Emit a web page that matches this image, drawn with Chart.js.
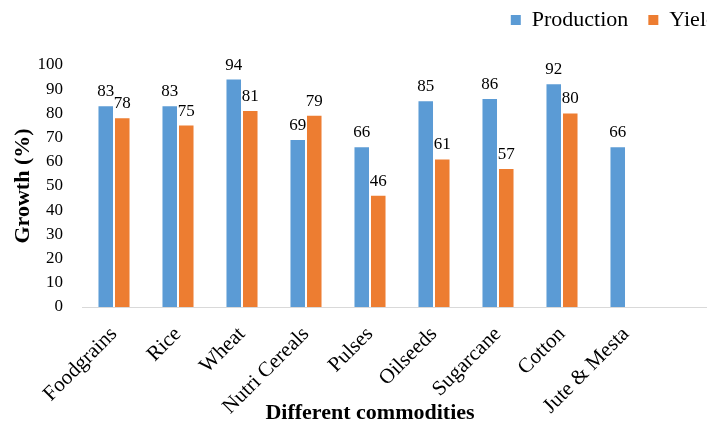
<!DOCTYPE html>
<html>
<head>
<meta charset="utf-8">
<title>Growth in production and yield</title>
<script src="https://cdn.jsdelivr.net/npm/chart.js@4.4.1/dist/chart.umd.min.js"></script>
<style>
  html, body { margin: 0; padding: 0; background: #fff; overflow: hidden; width: 707px; height: 430px; }
  #wrap { width: 737px; height: 430px; }
</style>
</head>
<body>
<div id="wrap"><canvas id="growthChart" width="737" height="430"></canvas></div>
<script>
// Commodities on the category axis
const commodities = ['Foodgrains', 'Rice', 'Wheat', 'Nutri Cereals', 'Pulses',
                     'Oilseeds', 'Sugarcane', 'Cotton', 'Jute & Mesta'];
// Growth (%) in production
const productionGrowth = [83, 83, 94, 69, 66, 85, 86, 92, 66];
// Growth (%) in yield (no yield figure for jute & mesta)
const yieldGrowth = [78, 75, 81, 79, 46, 61, 57, 80, null];
// Value axis range and step
const yMin = 0;
const yMax = 100;
const yStep = 10;

const SERIF = '"Liberation Serif", "Times New Roman", serif';
const BLUE = '#5B9BD5';
const ORANGE = '#ED7D31';
const AXIS_GREY = '#D9D9D9';

// Writes each bar's value just above it
const valueLabels = {
  id: 'valueLabels',
  afterDatasetsDraw(chart) {
    const ctx = chart.ctx;
    ctx.save();
    ctx.font = '17px ' + SERIF;
    ctx.fillStyle = '#000';
    ctx.textAlign = 'center';
    ctx.textBaseline = 'alphabetic';
    chart.data.datasets.forEach((ds, i) => {
      const meta = chart.getDatasetMeta(i);
      meta.data.forEach((bar, j) => {
        const v = ds.data[j];
        if (v === null || v === undefined) return;
        ctx.fillText(String(v), bar.x, bar.y - 10);
      });
    });
    ctx.restore();
  }
};

// Carries the category baseline on to the right edge of the canvas
const baselineRun = {
  id: 'baselineRun',
  afterDraw(chart) {
    const { ctx, chartArea, width } = chart;
    const y = Math.round(chartArea.bottom) + 0.5;
    ctx.save();
    ctx.strokeStyle = AXIS_GREY;
    ctx.lineWidth = 1;
    ctx.beginPath();
    ctx.moveTo(chartArea.right, y);
    ctx.lineTo(width, y);
    ctx.stroke();
    ctx.restore();
  }
};

new Chart(document.getElementById('growthChart'), {
  type: 'bar',
  data: {
    labels: commodities,
    datasets: [
      { label: 'Production', data: productionGrowth, backgroundColor: BLUE, borderWidth: 0,
        categoryPercentage: 0.516, barPercentage: 0.88 },
      { label: 'Yield', data: yieldGrowth, backgroundColor: ORANGE, borderWidth: 0,
        categoryPercentage: 0.516, barPercentage: 0.88 }
    ]
  },
  options: {
    responsive: false,
    animation: false,
    events: [],
    layout: { padding: { top: -11, left: 0, right: 0, bottom: 0 } },
    plugins: {
      tooltip: { enabled: false },
      legend: {
        position: 'top',
        align: 'end',
        labels: {
          boxWidth: 10,
          boxHeight: 10,
          padding: 20,
          color: '#000',
          font: { family: SERIF, size: 22 }
        }
      }
    },
    scales: {
      x: {
        type: 'category',
        position: 'bottom',
        grid: { display: false },
        border: { display: true, color: AXIS_GREY, width: 1 },
        ticks: {
          color: '#000',
          font: { family: SERIF, size: 21 },
          minRotation: 45,
          maxRotation: 45,
          autoSkip: false,
          padding: 7
        },
        title: {
          display: true,
          text: 'Different commodities',
          color: '#000',
          font: { family: SERIF, size: 22, weight: 'bold', lineHeight: 1.2 },
          padding: { top: 4, bottom: 3 }
        },
        afterFit(scale) { scale.height = 123; }
      },
      xTop: {
        type: 'category',
        position: 'top',
        grid: { display: false },
        border: { display: false },
        ticks: { display: false },
        afterFit(scale) { scale.height = 24; }
      },
      y: {
        min: yMin,
        max: yMax,
        grid: { display: false },
        border: { display: false },
        ticks: {
          stepSize: yStep,
          color: '#000',
          font: { family: SERIF, size: 17 },
          padding: 11
        },
        title: {
          display: true,
          text: 'Growth (%)',
          color: '#000',
          font: { family: SERIF, size: 22, weight: 'bold', lineHeight: 1.2 },
          padding: { top: 10, bottom: 0 }
        },
        afterFit(scale) { scale.width = 82; }
      },
      yRight: {
        type: 'linear',
        position: 'right',
        grid: { display: false },
        border: { display: false },
        ticks: { display: false },
        afterFit(scale) { scale.width = 79; }
      }
    }
  },
  plugins: [valueLabels, baselineRun]
});
</script>
</body>
</html>
